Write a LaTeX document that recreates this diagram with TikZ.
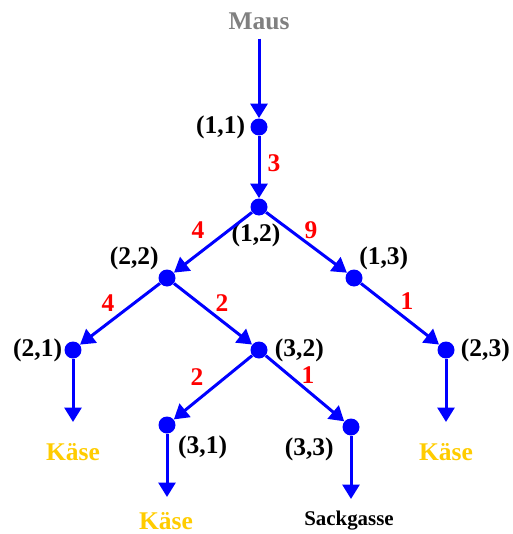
\documentclass[tikz,border=0pt]{standalone}
\usepackage{fontspec}
\setmainfont{Liberation Serif}
\usetikzlibrary{arrows.meta,positioning}
\definecolor{pathblue}{HTML}{0000FF}
\definecolor{cheese}{HTML}{FFCC00}
\definecolor{mousegray}{HTML}{808080}

\begin{document}
\begin{tikzpicture}[
  x=0.02cm, y=-0.02cm,
  dot/.style={circle,fill=pathblue,inner sep=0pt,minimum size=0.34cm},
  lab/.style={font=\fontsize{14.5}{16}\selectfont\bfseries,inner sep=1pt},
  wt/.style={lab,text=red},
  goal/.style={lab,text=cheese},
  arr/.style={-{Triangle[length=0.29cm,width=0.34cm]},line width=0.06cm,color=pathblue}
]
  \useasboundingbox (0,0) rectangle (513,534);

  % start and crossings
  \node[lab,text=mousegray] (maus) at (259,21) {Maus};
  \node[dot] (n11) at (259,127) {};
  \node[dot] (n12) at (259,207) {};
  \node[dot] (n22) at (167,278) {};
  \node[dot] (n13) at (354,278) {};
  \node[dot] (n21) at (73,350) {};
  \node[dot] (n32) at (259,350) {};
  \node[dot] (n23) at (446,350) {};
  \node[dot] (n31) at (167,425) {};
  \node[dot] (n33) at (351,427) {};

  % cell names
  \node[lab, left=0.06cm of n11] {(1,1)};
  \node[lab, below=0.12cm of n12, xshift=-0.06cm] {(1,2)};
  \node[lab, above left=0pt of n22] {(2,2)};
  \node[lab, above right=0pt and -0.06cm of n13] {(1,3)};
  \node[lab, left=0pt of n21] {(2,1)};
  \node[lab, right=0.1cm of n32] {(3,2)};
  \node[lab, right=0.08cm of n23] {(2,3)};
  \node[lab, below right=0.08cm of n31] {(3,1)};
  \node[lab, below left=0.04cm and 0.18cm of n33] {(3,3)};

  % goals
  \node[goal] (k21) at (73,452) {Käse};
  \node[goal] (k31) at (166,521) {Käse};
  \node[goal] (k23) at (446,452) {Käse};
  \node[lab,font=\fontsize{11.9}{13}\selectfont\bfseries] (sack) at (349,521) {Sackgasse};
  \coordinate (e21) at (73,422);
  \coordinate (e31) at (167,497);
  \coordinate (e33) at (351,499);
  \coordinate (e23) at (446,422);

  \draw[arr, shorten <=0.14cm] (maus) -- (n11);
  \draw[arr] (n11) -- (n12);
  \draw[arr] (n12) -- (n22);
  \draw[arr] (n12) -- (n13);
  \draw[arr] (n22) -- (n21);
  \draw[arr] (n22) -- (n32);
  \draw[arr] (n13) -- (n23);
  \draw[arr] (n32) -- (n31);
  \draw[arr] (n32) -- (n33);
  \draw[arr] (n21) -- (e21);
  \draw[arr] (n31) -- (e31);
  \draw[arr] (n33) -- (e33);
  \draw[arr] (n23) -- (e23);

  % path costs
  \node[wt] at (274,163) {3};
  \node[wt] at (198,230) {4};
  \node[wt] at (311,230) {9};
  \node[wt] at (108,303) {4};
  \node[wt] at (222,303) {2};
  \node[wt] at (407,301) {1};
  \node[wt] at (197,377) {2};
  \node[wt] at (308,375) {1};
\end{tikzpicture}
\end{document}
